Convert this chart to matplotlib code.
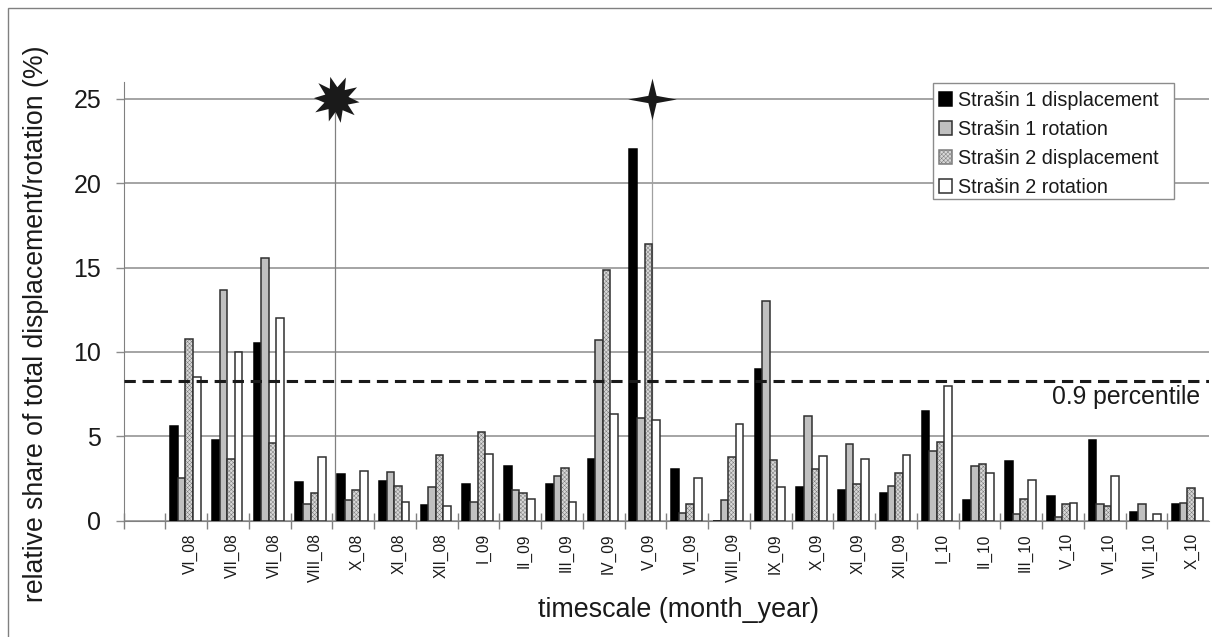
import numpy as np
import matplotlib
matplotlib.use("Agg")
import matplotlib.pyplot as plt
from matplotlib.patches import Rectangle
from matplotlib.path import Path

plt.rcParams['font.family'] = ['Liberation Sans', 'DejaVu Sans']
plt.rcParams['hatch.linewidth'] = 0.35

months = ["VI_08", "VII_08", "VII_08", "VIII_08", "X_08", "XI_08", "XII_08", "I_09", "II_09",
          "III_09", "IV_09", "V_09", "VI_09", "VIII_09", "IX_09", "X_09", "XI_09", "XII_09",
          "I_10", "II_10", "III_10", "V_10", "VI_10", "VII_10", "X_10"]

s1_disp = [5.6, 4.75, 10.5, 2.3, 2.77, 2.35, 0.91, 2.15, 3.26, 2.17, 3.64, 22.0, 3.08,
           0, 9.0, 1.96, 1.82, 1.62, 6.48, 1.19, 3.5, 1.48, 4.8, 0.53, 0.99]
s1_rot = [2.5, 13.65, 15.55, 0.95, 1.19, 2.9, 1.98, 1.1, 1.82, 2.65, 10.7, 6.09, 0.47,
          1.23, 13.0, 6.2, 4.55, 2.04, 4.13, 3.24, 0.38, 0.2, 0.95, 0.95, 1.03]
s2_disp = [10.75, 3.65, 4.6, 1.64, 1.8, 2.04, 3.87, 5.24, 1.64, 3.1, 14.85, 16.4, 0.99,
           3.75, 3.56, 3.08, 2.15, 2.79, 4.68, 3.36, 1.3, 0.95, 0.85, 0, 1.92]
s2_rot = [8.5, 10.0, 12.0, 3.77, 2.94, 1.07, 0.85, 3.95, 1.25, 1.1, 6.34, 5.97, 2.5,
          5.75, 2.0, 3.83, 3.66, 3.87, 8.0, 2.79, 2.39, 1.03, 2.65, 0.38, 1.32]

percentile = 8.25
event_x = [4.56, 12.17]  # positions of the two events on the category axis


def burst_marker():
    # irregular burst, tips
    tips = np.array([[-18, 65], [27, 63], [59, 35], [66, -8], [52, -45], [12, -67],
                     [-22, -63], [-61, -37], [-65, 4], [-52, 47]], dtype=float)
    verts = []
    for i, tip in enumerate(tips):
        verts.append(tip)
        verts.append(0.55 * (tip + tips[(i + 1) % len(tips)]) / 2)
    verts.append(tips[0])
    return Path(np.array(verts), closed=True)


def star4_marker():
    return Path([(1, 0), (0.17, 0.15), (0, 0.86), (-0.17, 0.15), (-1, 0), (-0.17, -0.15),
                 (0, -0.86), (0.17, -0.15), (1, 0)], closed=True)


fig = plt.figure(figsize=(12.12, 6.37), dpi=100)
# first category slot is empty, bars start in the second one
ax = fig.add_axes([123.5 / 1212, 1 - 520.5 / 637, (1209 - 123.5) / 1212, (520.5 - 82) / 637])

x = np.arange(1, len(months) + 1) - 0.018
w = 0.182
dark = '#303030'
ax.bar(x - 1.5 * w, s1_disp, w, color='black', edgecolor='black', lw=1.1, label="Strašin 1 displacement", zorder=3)
ax.bar(x - 0.5 * w, s1_rot, w, color='#c0c0c0', edgecolor=dark, lw=1.1, label="Strašin 1 rotation", zorder=3)
# stipple in a mid grey, the dark outline goes on top separately
ax.bar(x + 0.5 * w, s2_disp, w, color='#d8d8d8', edgecolor='#7c7c7c', lw=0, hatch='xxxxxxxx', label="Strašin 2 displacement", zorder=3)
ax.bar(x + 0.5 * w, s2_disp, w, fill=False, edgecolor=dark, lw=1.1, zorder=3)
ax.bar(x + 1.5 * w, s2_rot, w, color='white', edgecolor=dark, lw=1.1, label="Strašin 2 rotation", zorder=3)

ax.set_xlim(-0.5, 25.5)
ax.set_ylim(0, 26)
ax.set_yticks([0, 5, 10, 15, 20, 25])
ax.yaxis.grid(True, color='#8c8c8c', lw=1.1, zorder=0)
ax.set_axisbelow(True)
ax.tick_params(axis='y', labelsize=18, length=6, width=1, color='#8c8c8c', pad=10, labelcolor='#1a1a1a')

ax.set_xticks(np.arange(-0.5, 25.5))
ax.set_xticklabels([])
ax.set_xticks(x + 0.12, labels=months, minor=True)
ax.tick_params(axis='x', which='major', direction='inout', length=11.5, width=1, color='#808080')
ax.tick_params(axis='x', which='minor', length=0, pad=9.2, labelsize=11.2, labelrotation=90, labelcolor='#1a1a1a')
for lab in ax.get_xticklabels(minor=True):
    lab.set_va('top')

for name in ['top', 'right']:
    ax.spines[name].set_visible(False)
ax.spines['left'].set_color('#808080')
ax.spines['bottom'].set_color('#808080')

ax.axhline(percentile, color='#1a1a1a', lw=2.2, dashes=(3.7, 2.2), zorder=4)
ax.text(25.28, 7.32, "0.9 percentile", fontsize=17.8, ha='right', va='center', color='#1a1a1a', zorder=5)

ax.plot([event_x[0]] * 2, [0, 25], color='#808080', lw=0.9, zorder=2)
ax.plot([event_x[1]] * 2, [0, 25], color='#a0a0a0', lw=0.9, zorder=2)
ax.plot(event_x[0] + 0.02, 25, marker=burst_marker(), ms=33.6, color='#1a1a1a', mew=0, zorder=6, ls='none', clip_on=False)
ax.plot(event_x[1], 25, marker=star4_marker(), ms=35, color='#1a1a1a', mew=0, zorder=6, ls='none', clip_on=False)

# legend box drawn by hand, the text sits lower in it than a legend frame allows
ax.add_patch(Rectangle((933 / 1212, 1 - 199 / 637), 241 / 1212, 116.3 / 637, transform=fig.transFigure,
                       facecolor='white', edgecolor='#8c8c8c', lw=1, zorder=6.5, clip_on=False))
leg = ax.legend(loc='upper left', bbox_to_anchor=((933 - 123.5) / 1085.5, (520.5 - 85.5) / 438.5),
                fontsize=14.2, frameon=False, borderaxespad=0, borderpad=0.28, labelspacing=0.51,
                handlelength=0.69, handleheight=0.7, handletextpad=0.3)
leg.set_zorder(7)
leg.legend_handles[2].set_linewidth(1.1)
for t in leg.get_texts():
    t.set_color('#1a1a1a')

fig.text(36 / 1212, 1 - 324 / 637, "relative share of total displacement/rotation (%)", rotation=90,
         fontsize=19.2, ha='center', va='center', color='#1a1a1a')
fig.text(678 / 1212, 1 - 610 / 637, "timescale (month_year)", fontsize=19.4, ha='center', va='center', color='#1a1a1a')

# thin frame round the picture, open on the right and at the bottom
fig.add_artist(Rectangle((7.5 / 1212, -0.01), 1.1, 1 - 7.5 / 637 + 0.01, transform=fig.transFigure,
                         fill=False, edgecolor='#808080', lw=1))

fig.savefig("out.png", dpi=100)
